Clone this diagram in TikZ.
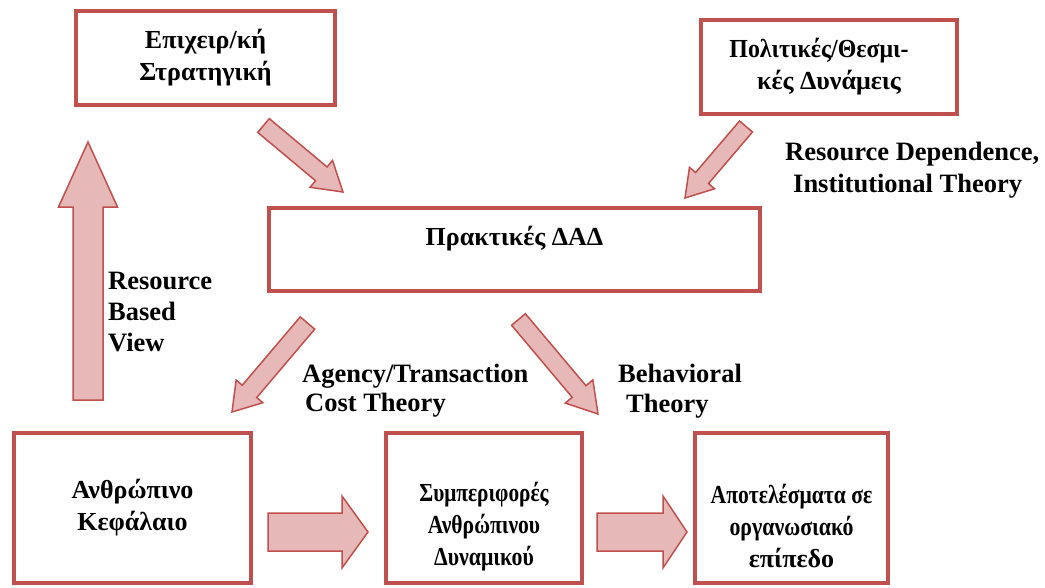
\documentclass[tikz,border=0pt]{standalone}
\usepackage{fontspec}
\setmainfont{Liberation Serif}
\usetikzlibrary{calc}

\definecolor{bordred}{HTML}{C0504D}
\definecolor{pinkfill}{HTML}{E6B8B7}

% Block arrow from a tail point to a tip point:
% #1 tail, #2 tip, #3 shaft width, #4 head width, #5 head length
\newcommand\blockarrow[5]{%
  \filldraw[blockarrowstyle] let \p1=(#1), \p2=(#2),
      \n1={atan2(\y2-\y1,\x2-\x1)}, \n2={veclen(\x2-\x1,\y2-\y1)} in
    ($(\p1)+(\n1+90:#3/2)$)
    -- ($(\p1)+(\n1:\n2-#5)+(\n1+90:#3/2)$)
    -- ($(\p1)+(\n1:\n2-#5)+(\n1+90:#4/2)$)
    -- (\p2)
    -- ($(\p1)+(\n1:\n2-#5)+(\n1-90:#4/2)$)
    -- ($(\p1)+(\n1:\n2-#5)+(\n1-90:#3/2)$)
    -- ($(\p1)+(\n1-90:#3/2)$)
    -- cycle;
}
% horizontally condensed line of text
\newcommand\cond[2]{\scalebox{#1}[1]{#2}}
% invisible strut that pushes a text block lower in its box
\newcommand\lowstrut{\rule{0pt}{56pt}}

\begin{document}
\begin{tikzpicture}[x=1pt,y=1pt,
  box/.style={draw=bordred, line width=4pt, fill=white, inner sep=0pt,
    font=\bfseries\fontsize{26}{32}\selectfont},
  mbox/.style={box, align=center},
  tag/.style={inner sep=0pt, align=left, anchor=north west},
  blockarrowstyle/.style={draw=bordred, fill=pinkfill, line width=1.5pt, line join=miter}]

\useasboundingbox (0,0) rectangle (1045,-587);

% boxes
\node[mbox, minimum width=259pt, minimum height=94pt] (strat) at (205.5,-58)
  {Επιχειρ/κή\\Στρατηγική};
\node[mbox, minimum width=256pt, minimum height=94pt] (polit) at (829,-67)
  {\cond{0.92}{Πολιτικές/Θεσμι-}\hspace*{20pt}\\κές Δυνάμεις};
\node[box, minimum width=491pt, minimum height=83pt,
      text height=37pt, text depth=46pt] (prac) at (514.5,-249.5)
  {Πρακτικές ΔΑΔ};
\node[mbox, minimum width=237pt, minimum height=150pt] (human) at (132.5,-508)
  {Ανθρώπινο\\Κεφάλαιο};
\node[mbox, minimum width=196pt, minimum height=150pt] (behav) at (484,-508)
  {\lowstrut\cond{0.82}{Συμπεριφορές}\\\cond{0.83}{Ανθρώπινου}\\\cond{0.84}{Δυναμικού}};
\node[mbox, minimum width=193pt, minimum height=150pt] (outc) at (791.5,-508)
  {\lowstrut\cond{0.83}{Αποτελέσματα σε}\\\cond{0.84}{οργανωσιακό}\\επίπεδο};

% arrow end points
\coordinate (rbvTail)   at (88,-400);
\coordinate (rbvTip)    at (88,-142);
\coordinate (stratTail) at (263.5,-125.5);
\coordinate (stratTip)  at (343,-192);
\coordinate (politTail) at (746,-126.5);
\coordinate (politTip)  at (685,-198);
\coordinate (agTail)    at (307.5,-323);
\coordinate (agTip)     at (232,-412);
\coordinate (btTail)    at (518.5,-319.5);
\coordinate (btTip)     at (598,-414);
\coordinate (hbTail)    at (268,-532);
\coordinate (hbTip)     at (368,-532);
\coordinate (boTail)    at (597,-532);
\coordinate (boTip)     at (687,-532);

% block arrows
\blockarrow{rbvTail}{rbvTip}{30}{59}{65}
\blockarrow{stratTail}{stratTip}{18}{35}{28}
\blockarrow{politTail}{politTip}{17}{33}{26}
\blockarrow{agTail}{agTip}{19}{35}{27}
\blockarrow{btTail}{btTip}{18}{36}{29}
\blockarrow{hbTail}{hbTip}{38}{72}{26}
\blockarrow{boTail}{boTip}{38}{72}{24}

% theory labels
\node[tag, font=\bfseries\fontsize{26.5}{31}\selectfont] (rbv) at (108,-272)
  {Resource\\Based\\View};
\node[tag, font=\bfseries\fontsize{26.5}{32}\selectfont] (rdit) at (785,-142.3)
  {Resource Dependence,\\\hspace*{8pt}Institutional Theory};
\node[tag, font=\bfseries\fontsize{26.5}{28.5}\selectfont] (agency) at (302,-364.3)
  {Agency/Transaction\\\hspace*{3pt}Cost Theory};
\node[tag, font=\bfseries\fontsize{26.5}{30}\selectfont] (btheory) at (618,-364.3)
  {Behavioral\\\hspace*{8pt}Theory};

\end{tikzpicture}
\end{document}
